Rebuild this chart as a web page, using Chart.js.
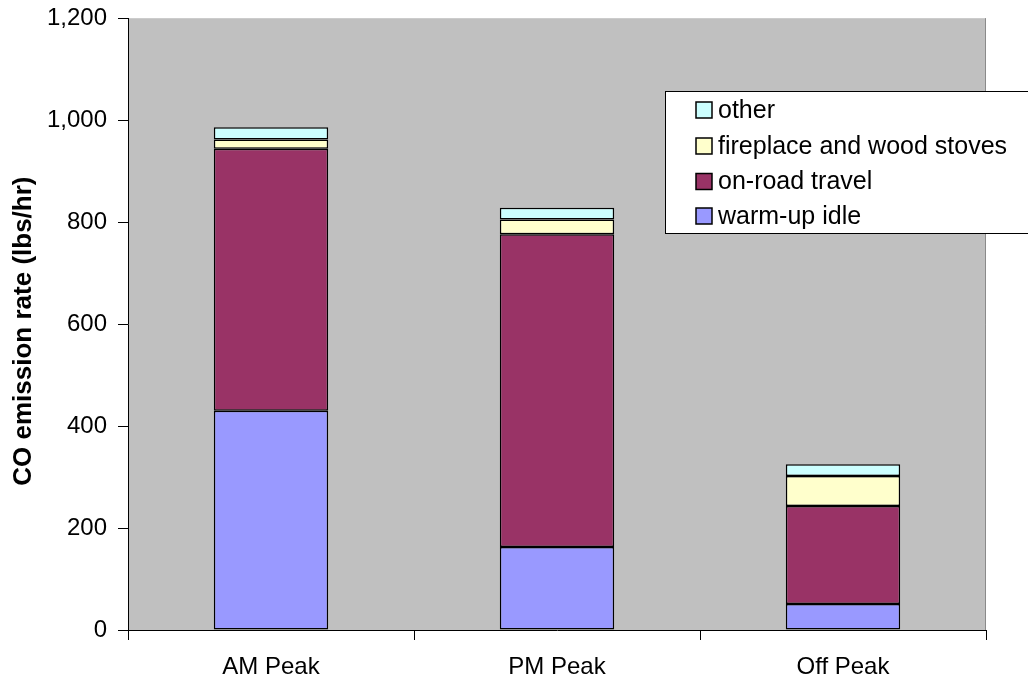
<!DOCTYPE html>
<html>
<head>
<meta charset="utf-8">
<script src="https://cdn.jsdelivr.net/npm/chart.js@4.4.1/dist/chart.umd.min.js"></script>
<style>
  html, body { margin: 0; padding: 0; background: #ffffff; }
  #wrap { width: 1028px; height: 683px; }
</style>
</head>
<body>
<div id="wrap"><canvas id="c" width="1028" height="683"></canvas></div>
<script>
// ---- Data ----
const categories = ['AM Peak', 'PM Peak', 'Off Peak'];
const warmUpIdle = [430, 163, 51];
const onRoadTravel = [514, 613, 192];
const fireplaceWoodStoves = [18, 29, 59];
const otherSources = [24, 23, 23];
const seriesNames = ['warm-up idle', 'on-road travel', 'fireplace and wood stoves', 'other'];
const yTickValues = [0, 200, 400, 600, 800, 1000, 1200];
const yAxisTitle = 'CO emission rate (lbs/hr)';

const FONT = "'Liberation Sans', Arial, sans-serif";

const plotBackground = {
  id: 'plotBackground',
  beforeDraw(chart) {
    const { ctx, chartArea: a } = chart;
    ctx.save();
    ctx.fillStyle = '#C0C0C0';
    ctx.fillRect(a.left, a.top, a.right - a.left, a.bottom - a.top);
    ctx.strokeStyle = '#8a8a8a';
    ctx.lineWidth = 1;
    ctx.beginPath();
    ctx.moveTo(Math.round(a.right) - 0.5, a.top);
    ctx.lineTo(Math.round(a.right) - 0.5, a.bottom);
    ctx.stroke();
    ctx.restore();
  }
};

const axisTitle = {
  id: 'axisTitle',
  afterDraw(chart) {
    const { ctx } = chart;
    const a = chart.chartArea;
    ctx.save();
    ctx.translate(24, (a.top + a.bottom) / 2 + 7);
    ctx.rotate(-Math.PI / 2);
    ctx.font = 'bold 26px ' + FONT;
    ctx.fillStyle = '#000000';
    ctx.textAlign = 'center';
    ctx.textBaseline = 'middle';
    ctx.fillText(yAxisTitle, 0, 0);
    ctx.restore();
  }
};

const boxLegend = {
  id: 'boxLegend',
  afterDraw(chart) {
    const { ctx } = chart;
    const x0 = 665.5, y0 = 91.5, x1 = 1040, y1 = 233.5;
    ctx.save();
    ctx.fillStyle = '#ffffff';
    ctx.fillRect(x0, y0, x1 - x0, y1 - y0);
    ctx.strokeStyle = '#000000';
    ctx.lineWidth = 1;
    ctx.strokeRect(x0, y0, x1 - x0, y1 - y0);
    const ds = chart.data.datasets.slice().reverse();
    const rowY = [110, 146, 181.5, 216];
    ctx.font = '25px ' + FONT;
    ctx.textBaseline = 'middle';
    ctx.textAlign = 'left';
    ds.forEach((d, i) => {
      const cy = rowY[i];
      ctx.fillStyle = d.backgroundColor;
      ctx.fillRect(696, cy - 8, 16, 16);
      ctx.strokeStyle = '#000000';
      ctx.lineWidth = 1.5;
      ctx.strokeRect(696, cy - 8, 16, 16);
      ctx.fillStyle = '#000000';
      ctx.fillText(d.label, 718, cy + 1);
    });
    ctx.restore();
  }
};

const colors = ['#9999FF', '#993366', '#FFFFCC', '#CCFFFF'];
const seriesData = [warmUpIdle, onRoadTravel, fireplaceWoodStoves, otherSources];

new Chart(document.getElementById('c'), {
  type: 'bar',
  data: {
    labels: categories,
    datasets: seriesData.map((vals, i) => ({
      label: seriesNames[i],
      data: vals,
      backgroundColor: colors[i],
      borderColor: '#000000',
      borderWidth: 1.5,
      borderSkipped: false,
      barPercentage: 0.4,
      categoryPercentage: 1.0
    }))
  },
  options: {
    responsive: false,
    animation: false,
    devicePixelRatio: 1,
    layout: { padding: { top: 18, right: 42, bottom: 0, left: 0 } },
    plugins: {
      legend: { display: false },
      tooltip: { enabled: false },
      title: { display: false }
    },
    scales: {
      x: {
        stacked: true,
        grid: {
          display: true,
          drawOnChartArea: false,
          drawTicks: true,
          tickLength: 10,
          tickColor: '#000000',
          offset: true
        },
        border: { display: true, color: '#000000', width: 1 },
        ticks: {
          color: '#000000',
          font: { family: FONT, size: 24 },
          padding: 13,
          maxRotation: 0
        },
        afterFit(scale) { scale.height = 53; }
      },
      y: {
        stacked: true,
        min: 0,
        max: 1200,
        afterBuildTicks(scale) { scale.ticks = yTickValues.map(v => ({ value: v })); },
        grid: {
          display: true,
          drawOnChartArea: false,
          drawTicks: true,
          tickLength: 10,
          tickColor: '#000000'
        },
        border: { display: true, color: '#000000', width: 1 },
        ticks: {
          color: '#000000',
          font: { family: FONT, size: 24, lineHeight: 0.6 },
          padding: 11,
          callback: (v) => Number(v).toLocaleString('en-US')
        },
        title: { display: false },
        afterFit(scale) { scale.width = 128; }
      }
    }
  },
  plugins: [plotBackground, boxLegend, axisTitle]
});
</script>
</body>
</html>
